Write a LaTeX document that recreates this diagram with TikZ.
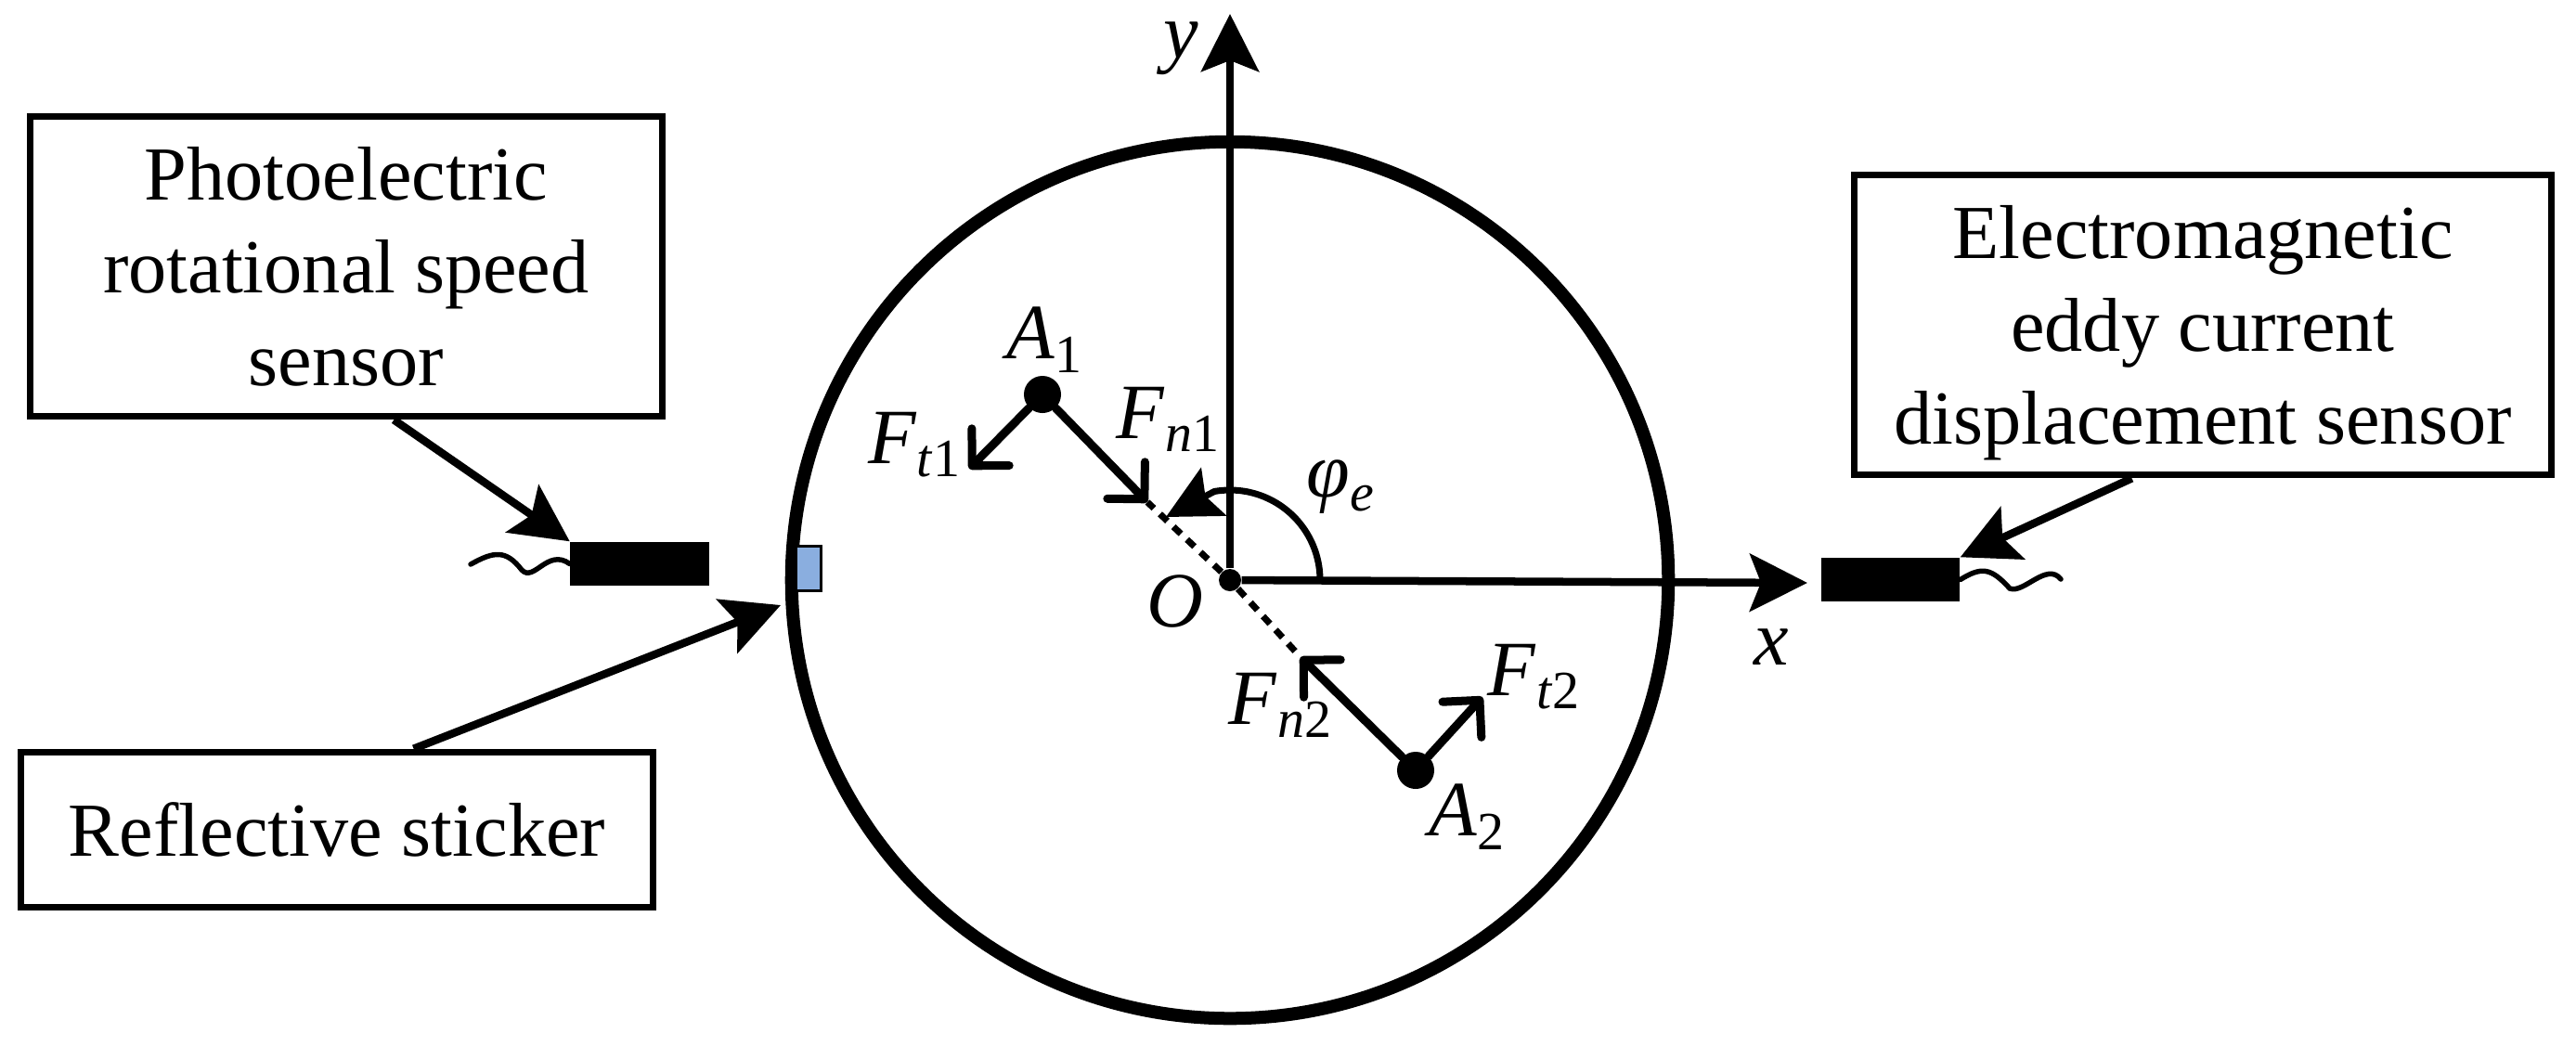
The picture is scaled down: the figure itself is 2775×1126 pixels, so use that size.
\documentclass[tikz,border=0pt]{standalone}
\usepackage{fontspec}
\setmainfont{Liberation Serif}
\usetikzlibrary{calc,positioning,arrows.meta}
\definecolor{stickerblue}{HTML}{8AAEDF}
\newcommand{\symlbl}[2]{\textit{#1}{\fontsize{16.5}{16.5}\selectfont\raisebox{-0.55ex}{#2}}}
\tikzset{
    infobox/.style={draw, line width=0.07cm, align=center, inner sep=0pt, font=\fontsize{23.4}{28.4}\selectfont},
    probe/.style={fill=black, inner sep=0pt, minimum width=1.49cm, minimum height=0.47cm},
    dotnode/.style={circle, fill=black, inner sep=0pt, minimum size=#1},
    pointer/.style={line width=0.085cm, -{Stealth[length=0.62cm,width=0.62cm,inset=0.12cm]}},
    force/.style={line width=0.09cm, line cap=round, -{Straight Barb[angle=90:0.40cm,round]}},
    wire/.style={line width=0.055cm, line cap=round},
    sym/.style={inner sep=0pt, font=\fontsize{24}{24}\selectfont}
}
\begin{document}
\begin{tikzpicture}[x=0.01cm,y=-0.01cm]
    \useasboundingbox (0,0) rectangle (2775,1126);

    % Rotor
    \node[circle, draw, line width=0.14cm, inner sep=0pt, minimum size=9.44cm] (rotor) at (1325,625) {};
    \node[draw, fill=stickerblue, line width=0.03cm, inner sep=0pt, minimum width=0.27cm, minimum height=0.48cm] (sticker) at (871,612) {};

    % Axes
    \node[dotnode=0.24cm] (O) at (1325,625) {};
    \coordinate (ytip) at (1325,15);
    \coordinate (xtip) at (1947,628);
    \draw[pointer] (O) -- (ytip);
    \draw[pointer] (O) -- (xtip);
    \node[sym] (ylabel) at (1272,52) {\textit{y}};
    \node[sym] (xlabel) at (1908,697) {\textit{x}};
    \node[sym] (Olabel) at (1266,648) {\textit{O}};

    % Angle
    \coordinate (arctip) at (1256,557);
    \draw[line width=0.07cm, -{Stealth[length=0.58cm,width=0.58cm,inset=0.1cm]}] ($(O)+(97,0)$) arc[start angle=0, end angle=-100, radius=97] -- (arctip);
    \node[sym] (philabel) at (1444,525) {\symlbl{φ}{\textit{e}}};

    % Forces
    \node[dotnode=0.40cm] (A1) at (1123,425) {};
    \node[dotnode=0.40cm] (A2) at (1525,830) {};
    \coordinate (Ft1) at (1044,505);
    \coordinate (Fn1) at (1236,541);
    \coordinate (Fn2) at (1401,708);
    \coordinate (Ft2) at (1597,751);
    \draw[force] (A1) -- (Ft1);
    \draw[force] (A1) -- (Fn1);
    \draw[force] (A2) -- (Fn2);
    \draw[force] (A2) -- (Ft2);
    \draw[line width=0.07cm, dash pattern=on 0.11cm off 0.09cm] (O) -- (Fn1);
    \draw[line width=0.07cm, dash pattern=on 0.11cm off 0.09cm] (O) -- (Fn2);
    \node[sym] (A1label) at (1125,366) {\symlbl{A}{1}};
    \node[sym] (A2label) at (1580,880) {\symlbl{A}{2}};
    \node[sym] (Ft1label) at (985,479) {\symlbl{F}{\textit{t}1}};
    \node[sym] (Fn1label) at (1258,452) {\symlbl{F}{\textit{n}1}};
    \node[sym] (Fn2label) at (1379,760) {\symlbl{F}{\textit{n}2}};
    \node[sym] (Ft2label) at (1652,729) {\symlbl{F}{\textit{t}2}};

    % Left sensor
    \node[probe] (probeL) at (689,607.5) {};
    \coordinate (wireL) at (507,608);
    \draw[wire] (wireL) .. controls (532,594) and (545,592) .. (562,614) .. controls (575,628) and (590,590) .. (probeL.west);
    \node[infobox, minimum width=6.805cm, minimum height=3.235cm] (photo) at (372.75,287) {Photoelectric\\rotational speed\\sensor};
    \draw[pointer] ($(photo.south west)!0.575!(photo.south east)$) -- (probeL.north west);

    % Sticker label
    \node[infobox, minimum width=6.81cm, minimum height=1.675cm] (reflect) at (363,894) {Reflective sticker};
    \draw[pointer] ($(reflect.north west)!0.62!(reflect.north east)$) -- (841,652);

    % Right sensor
    \node[probe] (probeR) at (2036.5,624.5) {};
    \coordinate (wireR) at (2220,624);
    \draw[wire] (probeR.east) .. controls (2135,610) and (2145,612) .. (2165,634) .. controls (2180,640) and (2205,605) .. (wireR);
    \node[infobox, minimum width=7.5cm, minimum height=3.235cm] (eddy) at (2373,350) {\rule{0pt}{21pt}Electromagnetic\\eddy current\\displacement sensor};
    \draw[pointer] ($(eddy.south west)!0.399!(eddy.south east)$) -- (probeR.north east);
\end{tikzpicture}
\end{document}
